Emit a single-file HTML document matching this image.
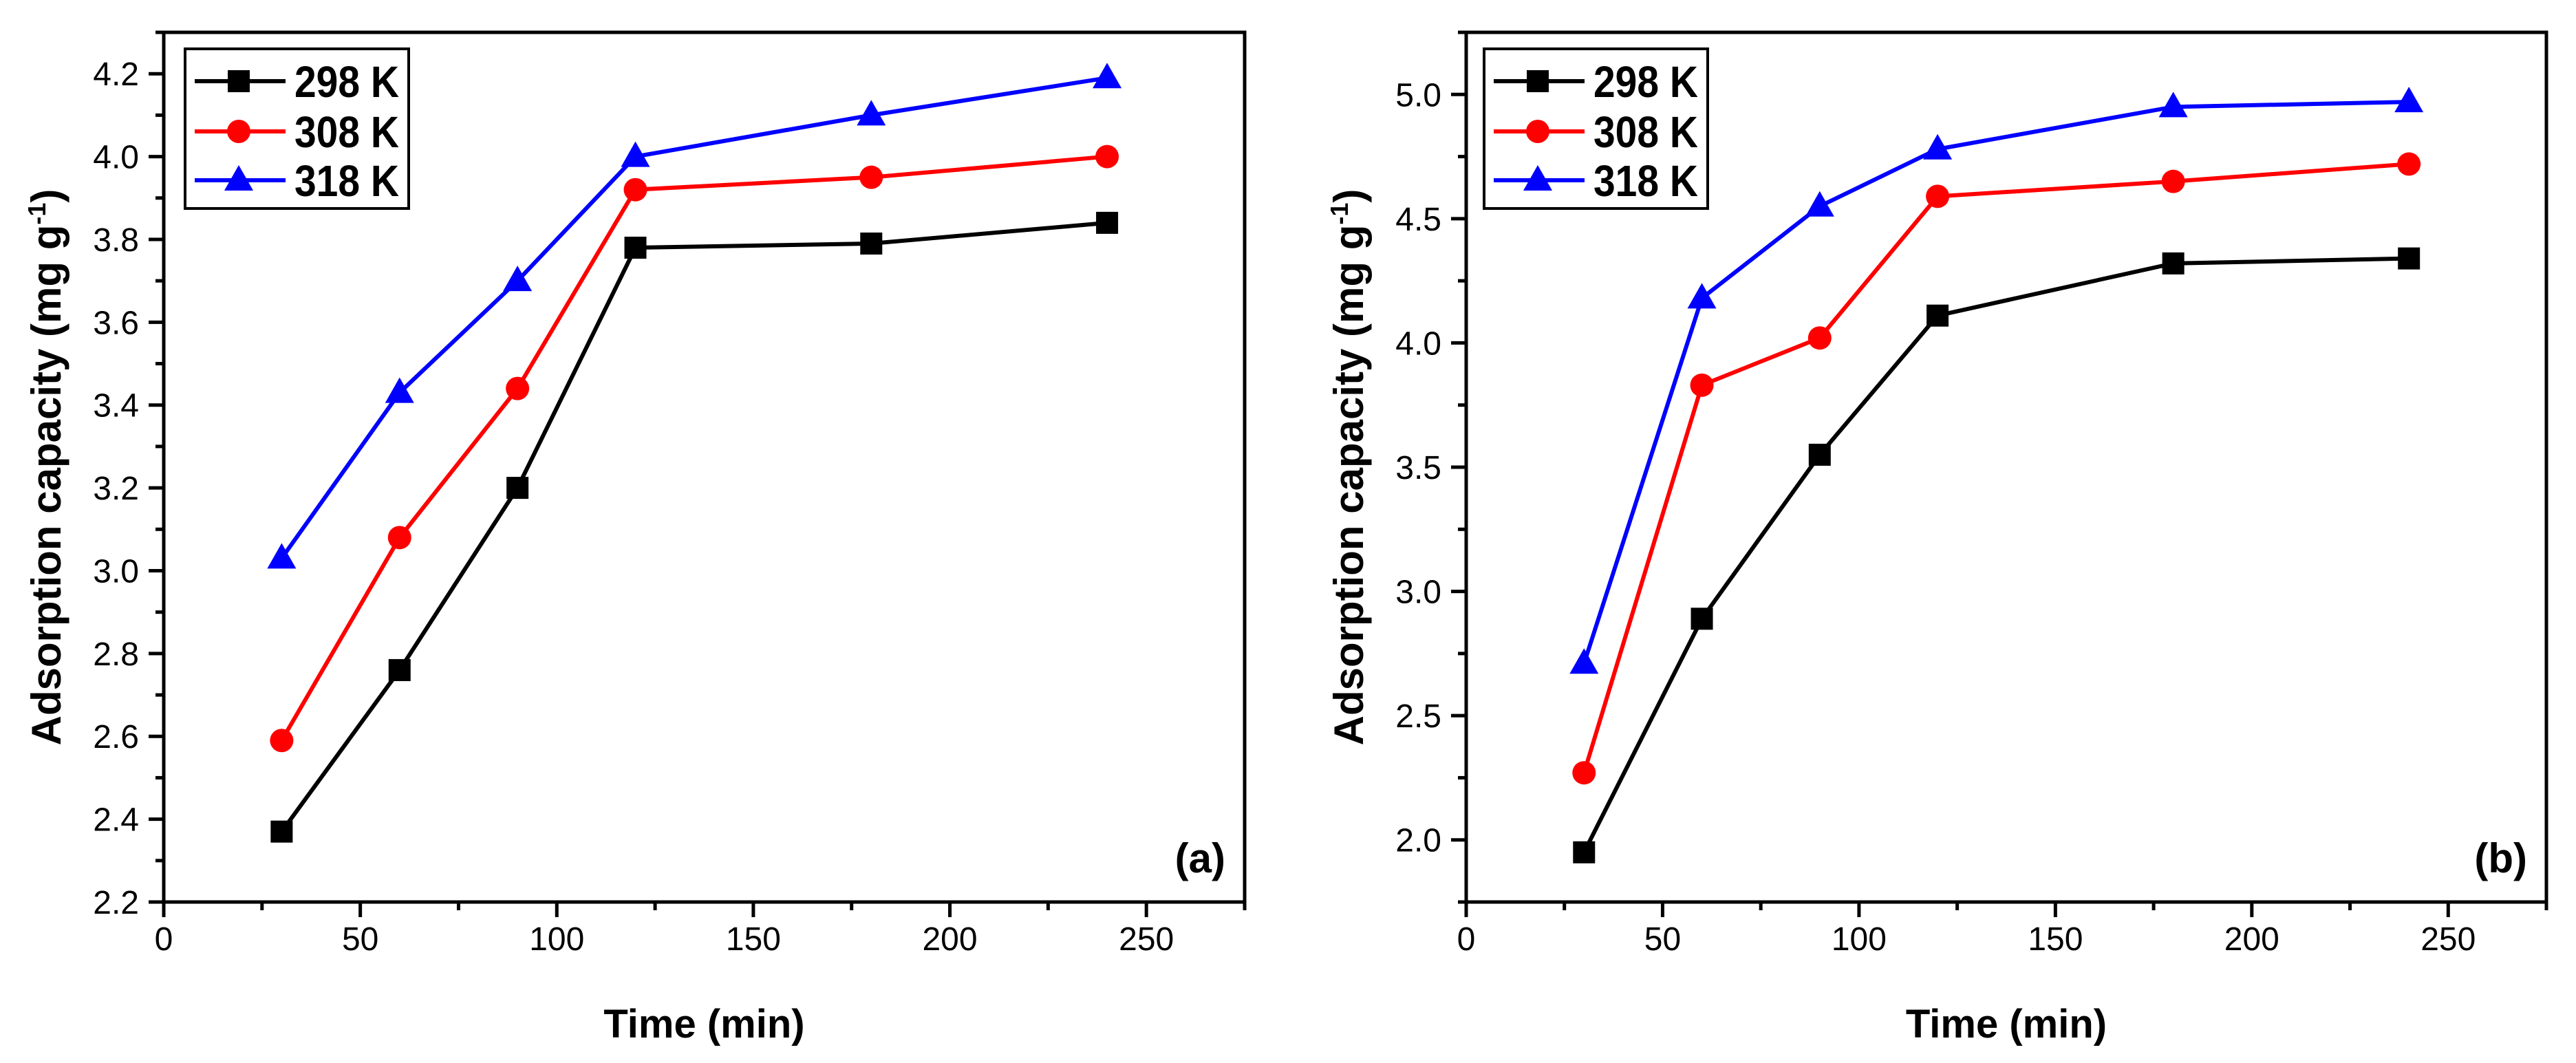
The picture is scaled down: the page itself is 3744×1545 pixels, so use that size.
<!DOCTYPE html>
<html><head><meta charset="utf-8"><style>
html,body{margin:0;padding:0;background:#fff;}
svg{display:block;font-family:"Liberation Sans",Arial,sans-serif;}
</style></head><body>
<svg id="fig" width="3744" height="1545" viewBox="0 0 3744 1545" xmlns="http://www.w3.org/2000/svg"></svg>
<script>
const times = [30, 60, 90, 120, 180, 240];
const seriesNames = ["298 K", "308 K", "318 K"];
const a298 = [2.37, 2.76, 3.20, 3.78, 3.79, 3.84];
const a308 = [2.59, 3.08, 3.44, 3.92, 3.95, 4.00];
const a318 = [3.03, 3.43, 3.70, 4.00, 4.10, 4.19];
const b298 = [1.95, 2.89, 3.55, 4.11, 4.32, 4.34];
const b308 = [2.27, 3.83, 4.02, 4.59, 4.65, 4.72];
const b318 = [2.71, 4.18, 4.55, 4.78, 4.95, 4.97];
const xTicks = [0, 50, 100, 150, 200, 250];
const aYTicks = [2.2, 2.4, 2.6, 2.8, 3.0, 3.2, 3.4, 3.6, 3.8, 4.0, 4.2];
const bYTicks = [2.0, 2.5, 3.0, 3.5, 4.0, 4.5, 5.0];

const NS = "http://www.w3.org/2000/svg";
const svg = document.getElementById("fig");
const colors = ["#000000", "#ff0000", "#0000ff"];
const shapes = ["square", "circle", "triangle"];

function mk(tag, attrs, parent) {
  const e = document.createElementNS(NS, tag);
  for (const k in attrs) e.setAttribute(k, attrs[k]);
  (parent || svg).appendChild(e);
  return e;
}
function marker(g, shape, cx, cy, color) {
  let m;
  if (shape === "square") m = mk("rect", {x: cx - 16, y: cy - 16, width: 32, height: 32, fill: color}, g);
  else if (shape === "circle") m = mk("circle", {cx: cx, cy: cy, r: 17, fill: color}, g);
  else m = mk("polygon", {points: `${cx},${cy - 22} ${cx + 21},${cy + 15} ${cx - 21},${cy + 15}`, fill: color}, g);
  return m;
}

function panel(opt) {
  const {L, R, T, B, ymin, ymax, yTicks, yMinorStep, dec, series, tag, legendX, prefix} = opt;
  const xs = v => L + (v - 0) / 275 * (R - L);
  const ys = v => B - (v - ymin) / (ymax - ymin) * (B - T);
  const g = mk("g", {});
  
  
  const fr = mk("rect", {x: L, y: T, width: R - L, height: B - T, fill: "none", stroke: "#000", "stroke-width": 5}, g);
  
  
  for (let v = 0; v <= 275; v += 25) {
    const major = v % 50 === 0;
    mk("line", {x1: xs(v), x2: xs(v), y1: B, y2: B + (major ? 22 : 12), stroke: "#000", "stroke-width": 5}, g);
  }
  xTicks.forEach(v => {
    const t = mk("text", {x: xs(v), y: 1381, "font-size": 48, "text-anchor": "middle", fill: "#000"}, g);
    t.textContent = String(v);
    
    
  });
  for (let v = ymin; v <= ymax + 1e-9; v += yMinorStep) {
    const isMajor = yTicks.some(t => Math.abs(t - v) < 1e-6);
    mk("line", {x1: L - (isMajor ? 22 : 12), x2: L, y1: ys(v), y2: ys(v), stroke: "#000", "stroke-width": 5}, g);
  }
  yTicks.forEach(v => {
    const t = mk("text", {x: L - 36, y: ys(v) + 17, "font-size": 48, "text-anchor": "end", fill: "#000"}, g);
    t.textContent = v.toFixed(dec);
    
    
  });
  const xt = mk("text", {x: (L + R) / 2, y: 1508, "font-size": 58, "font-weight": "bold", "text-anchor": "middle"}, g);
  xt.textContent = "Time (min)";
  
  
  const yx = L - 150, yy = (T + B) / 2;
  const yt = mk("text", {x: yx, y: yy, "font-size": 60, "font-weight": "bold", "text-anchor": "middle", transform: `rotate(-90 ${yx} ${yy})`}, g);
  yt.innerHTML = 'Adsorption capacity (mg g<tspan dy="-22" font-size="36">-1</tspan><tspan dy="22">)</tspan>';
  
  
  series.forEach((vals, i) => {
    const sg = mk("g", {}, g);
    
    
    const pts = vals.map((v, j) => xs(times[j]) + "," + ys(v)).join(" ");
    mk("polyline", {points: pts, fill: "none", stroke: colors[i], "stroke-width": 6}, sg);
    vals.forEach((v, j) => {
      const m = marker(sg, shapes[i], xs(times[j]), ys(v), colors[i]);
      
      
    });
  });
  const lg = mk("g", {}, g);
  
  
  mk("rect", {x: legendX, y: 71, width: 325, height: 232, fill: "#fff", stroke: "#000", "stroke-width": 4}, lg);
  const rows = [118, 191, 262];
  seriesNames.forEach((n, i) => {
    const eg = mk("g", {}, lg);
    
    
    mk("line", {x1: legendX + 14, x2: legendX + 146, y1: rows[i], y2: rows[i], stroke: colors[i], "stroke-width": 6}, eg);
    marker(eg, shapes[i], legendX + 78, rows[i], colors[i]);
    const t = mk("text", {x: legendX + 159, y: rows[i] + 23, "font-size": 64, "font-weight": "bold", textLength: 152, lengthAdjust: "spacingAndGlyphs"}, eg);
    t.textContent = n;
  });
  const pt = mk("text", {x: R - 28, y: 1268, "font-size": 60, "font-weight": "bold", "text-anchor": "end"}, g);
  pt.textContent = tag;
  
  
}

panel({L: 238, R: 1809, T: 47, B: 1311, ymin: 2.2, ymax: 4.3, yTicks: aYTicks, yMinorStep: 0.1, dec: 1,
  series: [a298, a308, a318], tag: "(a)", legendX: 269, prefix: "panel-a"});
panel({L: 2131, R: 3701, T: 47, B: 1311, ymin: 1.75, ymax: 5.25, yTicks: bYTicks, yMinorStep: 0.25, dec: 1,
  series: [b298, b308, b318], tag: "(b)", legendX: 2157, prefix: "panel-b"});
</script>
</body></html>
